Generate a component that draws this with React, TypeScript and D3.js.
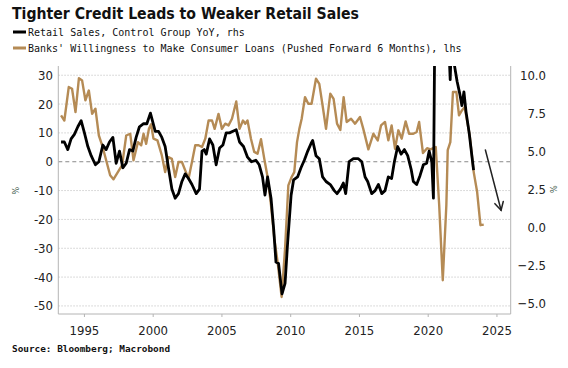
import React from 'react';
import * as d3 from 'd3';

// Banks' willingness to make consumer loans (pushed forward 6 months), lhs
const loanDates = [
  1993.30, 1993.54, 1993.86, 1994.10, 1994.35, 1994.60, 1994.83, 1995.07, 1995.32, 1995.56,
  1995.80, 1996.05, 1996.29, 1996.58, 1996.87, 1997.11, 1997.43, 1997.74, 1998.04, 1998.33,
  1998.57, 1998.89, 1999.13, 1999.30, 1999.49, 1999.69, 1999.85, 2000.02, 2000.31, 2000.63,
  2000.87, 2001.11, 2001.36, 2001.60, 2001.84, 2002.09, 2002.33, 2002.57, 2002.82, 2003.06,
  2003.30, 2003.55, 2003.79, 2004.03, 2004.28, 2004.47, 2004.75, 2005.00, 2005.24, 2005.48,
  2005.73, 2006.04, 2006.28, 2006.53, 2006.70, 2006.86, 2007.11, 2007.35, 2007.59, 2007.84,
  2008.08, 2008.32, 2008.57, 2008.81, 2009.05, 2009.34, 2009.59, 2009.83, 2010.07, 2010.26,
  2010.46, 2010.63, 2010.80, 2011.04, 2011.28, 2011.52, 2011.84, 2012.08, 2012.32, 2012.57,
  2012.88, 2013.12, 2013.37, 2013.61, 2013.85, 2014.07, 2014.39, 2014.68, 2015.04, 2015.28,
  2015.65, 2016.01, 2016.33, 2016.57, 2016.86, 2017.10, 2017.34, 2017.59, 2017.83, 2018.07,
  2018.36, 2018.61, 2018.92, 2019.16, 2019.34, 2019.62, 2019.92, 2020.16, 2020.55, 2020.80,
  2021.06, 2021.32, 2021.42, 2021.61, 2021.80, 2022.05, 2022.24, 2022.45, 2022.65, 2023.02,
  2023.31, 2023.56, 2023.80, 2024.04,
];
const loanValues = [
  16.1, 14.3, 25.9, 25.3, 17.2, 29.0, 28.2, 21.3, 24.7, 16.6,
  18.4, 9.1, 5.7, 0.5, -4.7, -6.1, -3.6, -1.2, 9.1, 9.7,
  0.5, 6.8, 5.7, 9.7, 6.2, 11.4, 13.0, 8.0, 7.4, 2.2,
  -3.6, 1.6, 1.0, -5.3, -0.1, -0.1, -3.0, -5.9, -0.1, 5.7,
  5.7, 5.1, 8.0, 14.3, 14.3, 11.4, 16.6, 11.4, 13.2, 12.6,
  14.9, 20.9, 11.4, 14.3, 13.2, 14.3, 8.0, 3.4, 2.8, 7.8,
  1.0, -5.3, -15.1, -26.7, -34.8, -46.9, -30.2, -8.2, -5.3, -3.6,
  6.8, 11.4, 14.9, 22.4, 20.1, 20.1, 28.8, 27.0, 19.5, 11.4,
  23.6, 21.8, 13.2, 11.0, 22.4, 13.8, 14.9, 13.2, 15.5, 11.4,
  4.3, 9.7, 7.4, 12.6, 13.8, 7.4, 12.6, 4.5, 10.9, 8.0,
  14.0, 9.7, 9.7, 10.3, 13.8, 3.0, 4.7, 4.3, 5.1, -15.1,
  -41.1, -15.1, 4.0, 6.8, 24.2, 24.2, 16.1, 17.8, 19.0, 9.1,
  -3.6, -10.5, -22.0, -21.8,
];

// Retail sales, control group YoY, rhs
const salesDates = [
  1993.30, 1993.54, 1993.79, 1994.03, 1994.27, 1994.52, 1994.76, 1995.00, 1995.25, 1995.49,
  1995.80, 1996.05, 1996.34, 1996.58, 1996.82, 1997.07, 1997.31, 1997.55, 1997.79, 1998.04,
  1998.28, 1998.52, 1998.76, 1999.00, 1999.30, 1999.54, 1999.80, 2000.15, 2000.39, 2000.63,
  2000.87, 2001.11, 2001.36, 2001.60, 2001.84, 2002.09, 2002.33, 2002.57, 2002.82, 2003.13,
  2003.37, 2003.55, 2003.71, 2003.86, 2004.10, 2004.34, 2004.58, 2004.83, 2005.07, 2005.31,
  2005.55, 2005.80, 2006.04, 2006.28, 2006.57, 2006.86, 2007.15, 2007.47, 2007.71, 2007.95,
  2008.13, 2008.32, 2008.57, 2008.76, 2008.93, 2009.12, 2009.37, 2009.59, 2009.78, 2010.03,
  2010.21, 2010.50, 2010.75, 2010.99, 2011.24, 2011.48, 2011.60, 2011.84, 2012.08, 2012.32,
  2012.57, 2012.88, 2013.17, 2013.37, 2013.61, 2013.83, 2014.00, 2014.25, 2014.56, 2014.92,
  2015.17, 2015.41, 2015.60, 2015.89, 2016.14, 2016.38, 2016.62, 2016.86, 2017.10, 2017.34,
  2017.54, 2017.78, 2018.03, 2018.27, 2018.51, 2018.76, 2018.92, 2019.16, 2019.41, 2019.65,
  2019.89, 2020.07, 2020.26, 2020.38, 2020.47, 2020.90, 2021.20, 2021.45, 2021.60, 2021.72,
  2021.88, 2022.10, 2022.29, 2022.45, 2022.60, 2022.75, 2022.98, 2023.30,
];
const salesValues = [
  5.6, 5.6, 5.1, 5.8, 6.1, 6.6, 7.0, 6.2, 5.3, 4.7,
  4.1, 4.3, 5.4, 5.1, 5.6, 5.9, 4.2, 5.0, 3.9, 4.2,
  5.1, 5.0, 5.9, 6.6, 6.8, 6.8, 7.5, 6.3, 6.3, 5.9,
  5.3, 3.9, 2.5, 1.9, 2.2, 3.0, 3.5, 3.2, 2.8, 2.2,
  2.5, 5.0, 5.1, 4.8, 5.8, 5.4, 4.1, 5.2, 5.4, 6.2,
  6.2, 6.3, 6.4, 5.6, 5.3, 4.6, 4.3, 4.4, 4.1, 3.3,
  2.1, 3.3, 1.9, -0.1, -2.3, -2.4, -4.4, -3.7, -1.0, 2.1,
  3.1, 3.3, 3.9, 4.4, 5.0, 5.5, 5.7, 4.7, 4.5, 3.3,
  3.0, 2.8, 2.4, 2.2, 2.5, 2.9, 2.2, 4.3, 4.5, 4.5,
  4.3, 3.3, 3.0, 2.2, 2.4, 2.8, 2.2, 2.4, 3.3, 3.2,
  4.3, 5.3, 4.8, 5.1, 4.7, 3.8, 3.0, 2.8, 3.4, 4.1,
  4.2, 5.0, 4.3, 1.9, 12.0, 13.0, 16.0, 13.0, 9.7, 13.0,
  10.8, 9.6, 8.8, 8.0, 8.9, 7.6, 6.2, 3.75,
];

const leftTicks = [30, 20, 10, 0, -10, -20, -30, -40, -50];
const rightTicks = [10, 7.5, 5, 2.5, 0, -2.5, -5];
const yearTicks = [1995, 2000, 2005, 2010, 2015, 2020, 2025];

// annotation arrow, in (year, rhs value)
const arrowDates = [2024.16, 2025.3];
const arrowValues = [5.07, 1.11];

const W = 568;
const H = 368;
const plot = { left: 58.3, right: 510.7, top: 66, bottom: 314 };

const tickFont = "'DejaVu Sans Condensed', 'Liberation Sans', sans-serif";
const monoFont = "'DejaVu Sans Mono', 'Liberation Mono', monospace";

export default function App() {
  const x = d3.scaleLinear().domain([1993.1, 2026.0]).range([plot.left, plot.right]);
  const yL = d3.scaleLinear().domain([-52.8, 33.2]).range([plot.bottom, plot.top]);
  const yR = d3.scaleLinear().domain([-5.72, 10.6]).range([plot.bottom, plot.top]);

  const loanLine = d3.line<number>()
    .x((_, i) => x(loanDates[i]))
    .y(d => yL(d));
  const salesLine = d3.line<number>()
    .x((_, i) => x(salesDates[i]))
    .y(d => yR(d));

  const ax0 = x(arrowDates[0]), ay0 = yR(arrowValues[0]);
  const ax1 = x(arrowDates[1]), ay1 = yR(arrowValues[1]);
  const ang = Math.atan2(ay1 - ay0, ax1 - ax0);
  const head = 9;
  const wing = (a: number) => [ax1 - head * Math.cos(ang + a), ay1 - head * Math.sin(ang + a)];
  const [w1x, w1y] = wing(0.5);
  const [w2x, w2y] = wing(-0.5);

  return (
    <>
      <style>{`body{margin:0;background:#fff}`}</style>
      <svg width={W} height={H} style={{ display: 'block' }}>
        <defs>
          <clipPath id="plotClip">
            <rect x={plot.left} y={plot.top} width={plot.right - plot.left} height={plot.bottom - plot.top} />
          </clipPath>
        </defs>

        {/* title + legend */}
        <text x={12} y={19} fontFamily="'DejaVu Sans Condensed', 'DejaVu Sans', sans-serif" fontWeight="bold"
          fontSize={16.5} textLength={347} lengthAdjust="spacingAndGlyphs" fill="#111">
          Tighter Credit Leads to Weaker Retail Sales
        </text>
        <line x1={13} x2={26} y1={32} y2={32} stroke="#000" strokeWidth={3} />
        <text x={28} y={35.5} fontFamily={monoFont} fontSize={10} fill="#111">
          Retail Sales, Control Group YoY, rhs
        </text>
        <line x1={13} x2={26} y1={48} y2={48} stroke="#b58b55" strokeWidth={3} />
        <text x={28} y={51.5} fontFamily={monoFont} fontSize={10} fill="#111">
          Banks' Willingness to Make Consumer Loans (Pushed Forward 6 Months), lhs
        </text>

        {/* grid */}
        {leftTicks.map(t => (
          <line key={t} x1={plot.left} x2={plot.right} y1={yL(t)} y2={yL(t)}
            stroke={t === 0 ? '#8a8a8a' : '#cfcfcf'}
            strokeDasharray={t === 0 ? '4,3' : '1.5,1.5'} strokeWidth={1} />
        ))}

        {/* axes */}
        <line x1={plot.left} x2={plot.left} y1={plot.top} y2={plot.bottom} stroke="#b4b4b4" />
        <line x1={plot.right} x2={plot.right} y1={plot.top} y2={plot.bottom} stroke="#b4b4b4" />
        <line x1={plot.left} x2={plot.right} y1={plot.bottom} y2={plot.bottom} stroke="#b4b4b4" />
        {yearTicks.map(t => (
          <g key={t}>
            <line x1={x(t)} x2={x(t)} y1={plot.bottom} y2={plot.bottom + 3} stroke="#b4b4b4" />
            <text x={x(t)} y={335} textAnchor="middle" fontFamily={tickFont} fontSize={13} fill="#222">{t}</text>
          </g>
        ))}
        {leftTicks.map(t => (
          <text key={t} x={53} y={yL(t) + 4.5} textAnchor="end" fontFamily={tickFont} fontSize={13} fill="#222">{t}</text>
        ))}
        {rightTicks.map(t => (
          <text key={t} x={546} y={yR(t) + 4.5} textAnchor="end" fontFamily={tickFont} fontSize={13} fill="#222">
            {d3.format('.1f')(t)}
          </text>
        ))}
        <text transform={`translate(19,${yL(-10)}) rotate(-90)`} textAnchor="middle" fontFamily={tickFont}
          fontSize={9} fill="#3d5a4a">%</text>
        <text transform={`translate(557,${yR(2.5)}) rotate(-90)`} textAnchor="middle" fontFamily={tickFont}
          fontSize={9} fill="#3d5a4a">%</text>

        {/* series */}
        <g clipPath="url(#plotClip)" fill="none" strokeLinejoin="round">
          <path d={loanLine(loanValues) || ''} stroke="#b58b55" strokeWidth={2.4} />
          <path d={salesLine(salesValues) || ''} stroke="#000" strokeWidth={2.8} />
        </g>

        {/* arrow */}
        <g stroke="#222" strokeWidth={1.5} fill="none" strokeLinecap="round">
          <line x1={ax0} y1={ay0} x2={ax1} y2={ay1} />
          <polyline points={`${w1x},${w1y} ${ax1},${ay1} ${w2x},${w2y}`} />
        </g>

        <text x={12} y={352} fontFamily={monoFont} fontWeight="bold" fontSize={9.4} fill="#111">
          Source: Bloomberg; Macrobond
        </text>
      </svg>
    </>
  );
}
